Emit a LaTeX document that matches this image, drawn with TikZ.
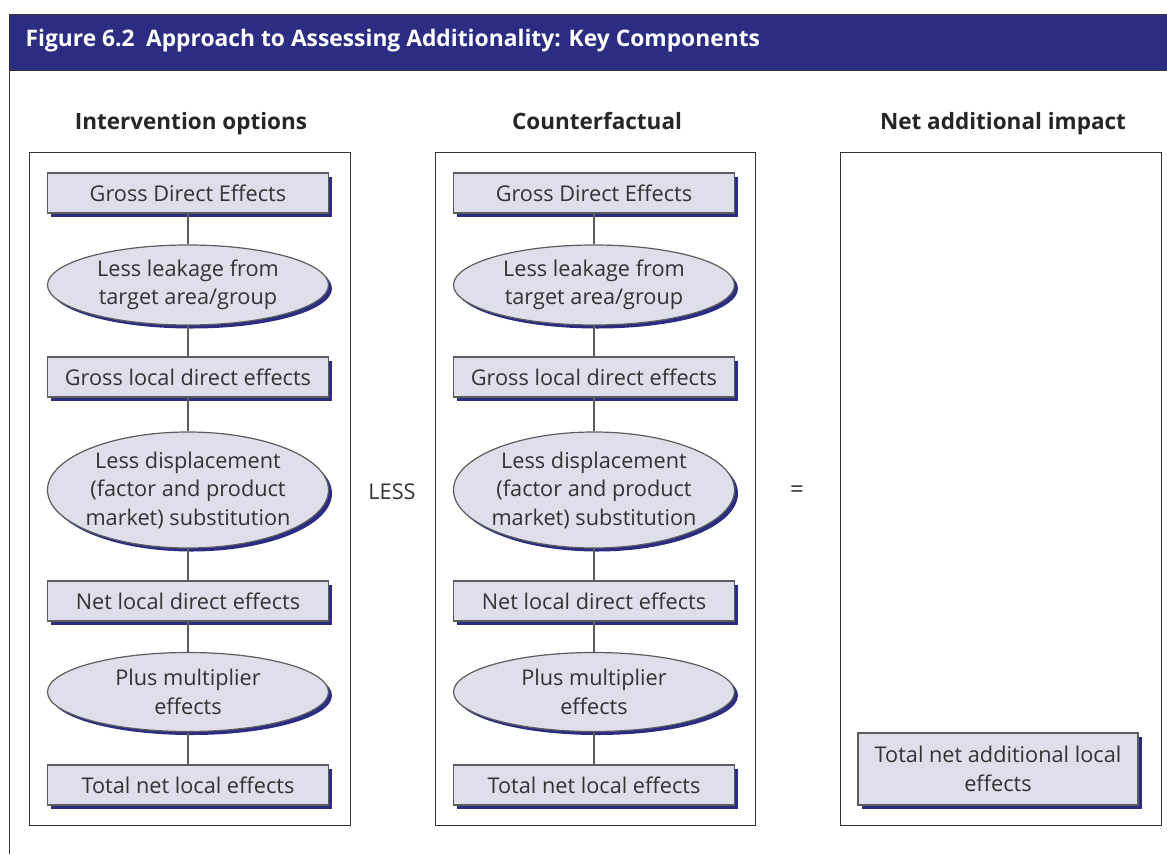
\documentclass[tikz,border=0pt]{standalone}
\usepackage{fontspec}
\setmainfont{Open Sans}
\usetikzlibrary{shapes.geometric,shadows}
\definecolor{navyband}{HTML}{2B2D83}
\definecolor{lavfill}{HTML}{DFDFEC}
\definecolor{inkgray}{HTML}{333333}
\tikzset{
  effbox/.style={rectangle,draw=inkgray!80,fill=lavfill,line width=1.2pt,
    minimum width=281pt,minimum height=40pt,inner sep=0pt,text=inkgray,
    align=center,font=\fontsize{21.7}{28.5}\selectfont,
    drop shadow={shadow xshift=3.5pt,shadow yshift=-3.5pt,fill=navyband,opacity=1}},
  effoval/.style={effbox,ellipse,inner sep=-7pt},
  colframe/.style={draw=inkgray,line width=1pt},
  colhead/.style={anchor=base,font=\bfseries\fontsize{22.5}{26}\selectfont,text=black!85},
  link/.style={draw=inkgray!80,line width=1.2pt}
}
\begin{document}
\begin{tikzpicture}[x=1pt,y=-1pt]
  \useasboundingbox (0,0) rectangle (1167,854);
  % outer frame and title band
  \draw[inkgray,line width=1pt] (9,854) -- (9,14) -- (1167,14);
  \fill[navyband] (9,14) rectangle (1167,70);
  \draw[inkgray,line width=1pt] (9,14) -- (1167,14) (9,70) -- (1167,70) (9,14) -- (9,70);
  \node[anchor=west,text=white,font=\bfseries\fontsize{22.8}{26}\selectfont] (title) at (22,41)
    {Figure 6.2\enspace Approach to Assessing Additionality: Key Components};
  % column frames
  \draw[colframe] (29,152) rectangle (350,825);
  \draw[colframe] (435,152) rectangle (755,825);
  \draw[colframe] (840,152) rectangle (1161,825);
  \node[colhead] (hint) at (191,129) {Intervention options};
  \node[colhead] (hcf) at (597,129) {Counterfactual};
  \node[colhead] (hnet) at (1003,129) {Net additional impact};
  % the two chains
  \foreach \c/\x in {io/188,cf/594} {
    \node[effbox] (\c gross) at (\x,193) {Gross Direct Effects};
    \node[effoval,minimum height=80pt] (\c leak) at (\x,285) {Less leakage from\\target area/group};
    \node[effbox] (\c local) at (\x,377) {Gross local direct effects};
    \node[effoval,minimum height=116pt] (\c disp) at (\x,490) {Less displacement\\(factor and product\\market) substitution};
    \node[effbox] (\c netloc) at (\x,601) {Net local direct effects};
    \node[effoval,minimum height=79pt] (\c mult) at (\x,692) {Plus multiplier\\effects};
    \node[effbox] (\c total) at (\x,785) {Total net local effects};
    \draw[link] (\c gross) -- (\c leak);
    \draw[link] (\c leak) -- (\c local);
    \draw[link] (\c local) -- (\c disp);
    \draw[link] (\c disp) -- (\c netloc);
    \draw[link] (\c netloc) -- (\c mult);
    \draw[link] (\c mult) -- (\c total);
  }
  \node[effbox,minimum width=280pt,minimum height=72pt] (nettotal) at (998,769)
    {Total net additional local\\effects};
  \node[text=inkgray,font=\fontsize{21.7}{24}\selectfont] (less) at (392,492) {LESS};
  \node[text=inkgray,font=\fontsize{24}{24}\selectfont] (equals) at (797,492) {=};
\end{tikzpicture}
\end{document}
